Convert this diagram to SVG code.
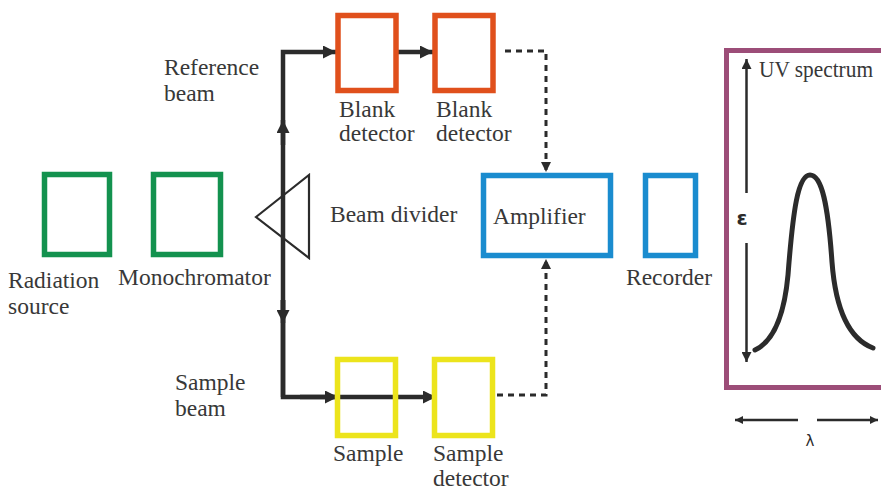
<svg xmlns="http://www.w3.org/2000/svg" width="881" height="491" viewBox="0 0 881 491">
  <style>
    .lbl { font-family: 'Liberation Serif', 'Times New Roman', serif; font-size: 23.5px; fill: #383838; }
    .box { fill: none; stroke-width: 5.5; }
    .green { stroke: #13924f; }
    .orange { stroke: #e0501c; }
    .yellow { stroke: #ece41c; }
    .blue { stroke: #1a8ccf; }
    .beam { fill: none; stroke: #2b2b2b; stroke-width: 4.5; }
    .dash { fill: none; stroke: #2b2b2b; stroke-width: 3; stroke-dasharray: 6 5; }
    .axis { fill: none; stroke: #2b2b2b; stroke-width: 2.5; }
  </style>
  <defs>
    <marker id="head" viewBox="0 0 10 10" refX="10" refY="5" markerUnits="userSpaceOnUse" markerWidth="13" markerHeight="13" orient="auto">
      <path d="M0,0 L10,5 L0,10 z" fill="#2b2b2b"/>
    </marker>
    <marker id="headSmall" viewBox="0 0 10 10" refX="10" refY="5" markerUnits="userSpaceOnUse" markerWidth="10" markerHeight="10" orient="auto">
      <path d="M0,0 L10,5 L0,10 z" fill="#2b2b2b"/>
    </marker>
    <marker id="headThin" viewBox="0 0 10 10" refX="10" refY="5" markerUnits="userSpaceOnUse" markerWidth="9" markerHeight="8" orient="auto">
      <path d="M0,0 L10,5 L0,10 z" fill="#2b2b2b"/>
    </marker>
  </defs>
  <rect width="881" height="491" fill="#ffffff"/>

  <!-- light path (solid) and detector signals (dashed) -->
  <g id="connectors">
    <path class="beam" d="M283,397 L283,52 L336,52" marker-end="url(#head)"/>
    <path class="beam" d="M283,145 L283,120" marker-end="url(#head)"/>
    <path class="beam" d="M283,300 L283,323" marker-end="url(#head)"/>
    <path class="beam" d="M398,52 L433,52" marker-end="url(#head)"/>
    <path class="beam" d="M283,300 L283,397 L436,397" marker-end="url(#head)"/>
    <path class="beam" d="M300,397 L338,397" marker-end="url(#head)"/>
    <path class="dash" d="M505,51 L546,51 L546,172" marker-end="url(#headSmall)"/>
    <path class="dash" d="M497,395 L546,395 L546,259" marker-end="url(#headSmall)"/>
  </g>

  <g id="radiation-source">
    <rect class="box green" x="44.5" y="174.5" width="65" height="80"/>
    <text class="lbl" x="8" y="288">Radiation</text>
    <text class="lbl" x="8" y="314">source</text>
  </g>

  <g id="monochromator">
    <rect class="box green" x="153.5" y="174.5" width="67" height="80"/>
    <text class="lbl" x="118" y="285">Monochromator</text>
  </g>

  <g id="beam-divider">
    <polygon points="256,217 309,175 309,258" fill="none" stroke="#2b2b2b" stroke-width="2.2"/>
    <text class="lbl" x="330" y="222">Beam divider</text>
  </g>

  <g id="reference-beam-label">
    <text class="lbl" x="164" y="75">Reference</text>
    <text class="lbl" x="164" y="101">beam</text>
  </g>

  <g id="blank-detector-1">
    <rect class="box orange" x="338" y="15.5" width="58" height="75"/>
    <text class="lbl" x="339" y="117">Blank</text>
    <text class="lbl" x="339" y="141">detector</text>
  </g>

  <g id="blank-detector-2">
    <rect class="box orange" x="435" y="15.5" width="58" height="75"/>
    <text class="lbl" x="436" y="117">Blank</text>
    <text class="lbl" x="436" y="141">detector</text>
  </g>

  <g id="amplifier">
    <rect class="box blue" x="483.5" y="175.5" width="127" height="80"/>
    <text class="lbl" x="493" y="224">Amplifier</text>
  </g>

  <g id="recorder">
    <rect class="box blue" x="645.5" y="175.5" width="50" height="80"/>
    <text class="lbl" x="626" y="285">Recorder</text>
  </g>

  <g id="sample-beam-label">
    <text class="lbl" x="175" y="390">Sample</text>
    <text class="lbl" x="175" y="416">beam</text>
  </g>

  <g id="sample">
    <rect class="box yellow" x="337.5" y="359.5" width="58" height="76"/>
    <text class="lbl" x="333" y="461">Sample</text>
  </g>

  <g id="sample-detector">
    <rect class="box yellow" x="434.5" y="359.5" width="58" height="76"/>
    <text class="lbl" x="433" y="461">Sample</text>
    <text class="lbl" x="433" y="486">detector</text>
  </g>

  <g id="uv-spectrum">
    <rect x="726.5" y="50.5" width="200" height="337" fill="none" stroke="#9c4d78" stroke-width="5"/>
    <text class="lbl" x="759" y="77" font-size="20" textLength="114" lengthAdjust="spacingAndGlyphs">UV spectrum</text>
    <path class="axis" d="M746.5,193 L746.5,59" marker-end="url(#headSmall)"/>
    <path class="axis" d="M746.5,243 L746.5,362" marker-end="url(#headSmall)"/>
    <text x="742" y="225" font-family="'DejaVu Sans', sans-serif" font-size="20" font-weight="bold" fill="#2b2b2b" text-anchor="middle">ε</text>
    <path d="M755,350 C772,342 784,318 788,275 C793,210 798,175 810,175 C822,175 828,205 832,262 C836,315 852,340 873,348" fill="none" stroke="#2b2b2b" stroke-width="5" stroke-linecap="round"/>
    <path class="axis" d="M798,420 L735,420" stroke-width="2" marker-end="url(#headThin)"/>
    <path class="axis" d="M817,420 L878,420" stroke-width="2" marker-end="url(#headThin)"/>
    <text x="810" y="446" font-family="'DejaVu Sans', sans-serif" font-size="15" fill="#2b2b2b" text-anchor="middle">λ</text>
  </g>
</svg>
